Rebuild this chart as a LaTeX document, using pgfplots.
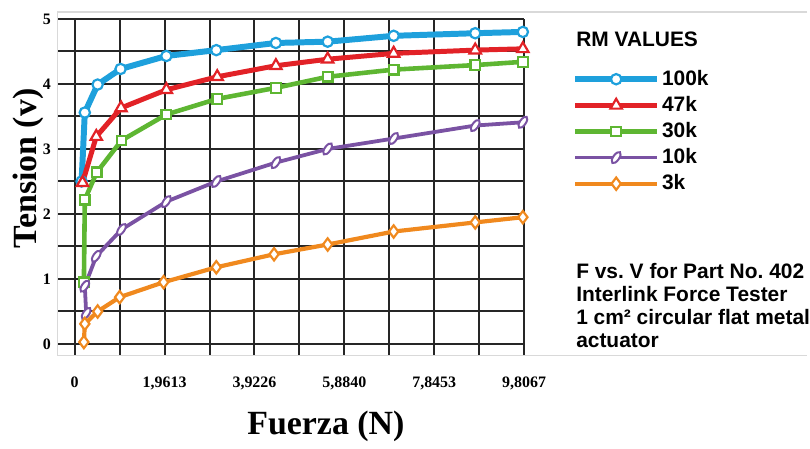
\documentclass[border=0pt]{standalone}
\usepackage{pgfplots}
\pgfplotsset{compat=1.18}
\usepackage{fontspec}
\setmainfont{Liberation Serif}
\setsansfont{Liberation Sans}
\definecolor{cblue}{RGB}{30,160,220}
\definecolor{cred}{RGB}{226,34,39}
\definecolor{cgreen}{RGB}{94,182,50}
\definecolor{cpurple}{RGB}{122,82,163}
\definecolor{corange}{RGB}{240,137,30}
\begin{document}
\begin{tikzpicture}
\begin{axis}[
  width=234pt, height=169pt, scale only axis,
  xmin=-0.37, xmax=9.8067, ymin=-0.18, ymax=5,
  axis line style={draw=none},
  xtick={0,1.9613,3.9226,5.884,7.8453,9.8067},
  xticklabels={0,{1,9613},{3,9226},{5,8840},{7,8453},{9,8067}},
  minor xtick={0.98067,2.94201,4.90335,6.86469,8.82603},
  ytick={0,1,2,3,4,5}, yticklabels={0,1,2,3,4,5},
  minor ytick={0.5,1.5,2.5,3.5,4.5},
  grid=both,
  major grid style={black!85, line width=1pt},
  minor grid style={black!85, line width=1pt},
  major tick length=0pt, minor tick length=0pt,
  ticklabel style={font=\bfseries\fontsize{8}{9}\selectfont},
  xticklabel style={yshift=-7pt},
  xlabel={Fuerza (N)}, ylabel={Tension (v)},
  label style={font=\bfseries\fontsize{17}{19}\selectfont},
  xlabel style={at={(axis description cs:0.575,-0.21)}, anchor=center},
  ylabel style={at={(axis description cs:-0.064,0.556)}, anchor=center},
  clip=false,
  legend style={at={(axis description cs:1.1026,0.855)}, anchor=north west,
    draw=none, fill=none, inner sep=0pt,
    font=\sffamily\bfseries\fontsize{10.5}{12}\selectfont,
    row sep=2pt, nodes={inner sep=1pt}},
  legend cell align=left,
  legend image code/.code={\draw[mark repeat=2,mark phase=2,#1] plot coordinates {(0pt,0pt) (20.5pt,0pt) (41pt,0pt)};},
]
\addplot[cblue, line width=3pt, mark=*, mark size=2.6pt, mark options={fill=white, draw=cblue, line width=1.1pt, solid}] coordinates {
(0.15,2.50) (0.22,3.56) (0.50,3.99) (1.00,4.23) (2.00,4.43) (3.09,4.52) (4.39,4.63) (5.52,4.65) (6.96,4.74) (8.74,4.78) (9.78,4.80)};
\addlegendentry{100k}
\addplot[cred, line width=2.5pt, mark=triangle*, mark size=3.3pt, mark options={fill=white, draw=cred, line width=1.1pt, solid}] coordinates {
(0.17,2.48) (0.47,3.19) (1.01,3.63) (2.00,3.91) (3.11,4.11) (4.39,4.28) (5.52,4.38) (6.96,4.47) (8.74,4.52) (9.78,4.54)};
\addlegendentry{47k}
\addplot[cgreen, line width=2.3pt, mark=square*, mark size=2.4pt, mark options={fill=white, draw=cgreen, line width=1.1pt, solid}] coordinates {
(0.20,0.95) (0.22,2.22) (0.48,2.64) (1.02,3.13) (2.00,3.53) (3.11,3.77) (4.39,3.94) (5.52,4.11) (6.96,4.22) (8.74,4.29) (9.78,4.34)};
\addlegendentry{30k}
\addplot[cpurple, line width=1.9pt, mark=*, mark size=3.3pt, mark options={fill=white, draw=cpurple, line width=1pt, solid, rotate=-35, xscale=0.45}] coordinates {
(0.25,0.47) (0.22,0.89) (0.47,1.35) (1.02,1.76) (2.00,2.19) (3.09,2.50) (4.39,2.79) (5.52,3.00) (6.96,3.16) (8.74,3.36) (9.78,3.41)};
\addlegendentry{10k}
\addplot[corange, line width=2.1pt, mark=diamond*, mark size=3.1pt, mark options={fill=white, draw=corange, line width=1.1pt, solid}] coordinates {
(0.20,0.03) (0.22,0.31) (0.50,0.50) (0.98,0.72) (1.94,0.95) (3.09,1.18) (4.35,1.38) (5.52,1.53) (6.96,1.73) (8.74,1.87) (9.78,1.95)};
\addlegendentry{3k}
\draw[black!15, line width=0.6pt] (axis description cs:1.607,1.0207) -- (axis description cs:0,1.0207) -- (axis description cs:0,0) -- (axis description cs:1.607,0);
\node[anchor=west, inner sep=0pt, font=\sffamily\bfseries\fontsize{10.5}{12}\selectfont] at (axis description cs:1.111,0.938) {RM VALUES};
\node[anchor=west, align=left, inner sep=0pt, font=\sffamily\bfseries\fontsize{10.5}{11.5}\selectfont] at (axis description cs:1.111,0.148) {F vs.\ V for Part No.\ 402\\Interlink Force Tester\\1 cm² circular flat metal\\actuator};
\coordinate (bbl) at (axis description cs:-0.1239,-0.2485);
\coordinate (btr) at (axis description cs:1.6068,1.0562);
\end{axis}
\path (bbl) rectangle (btr);
\end{tikzpicture}
\end{document}
